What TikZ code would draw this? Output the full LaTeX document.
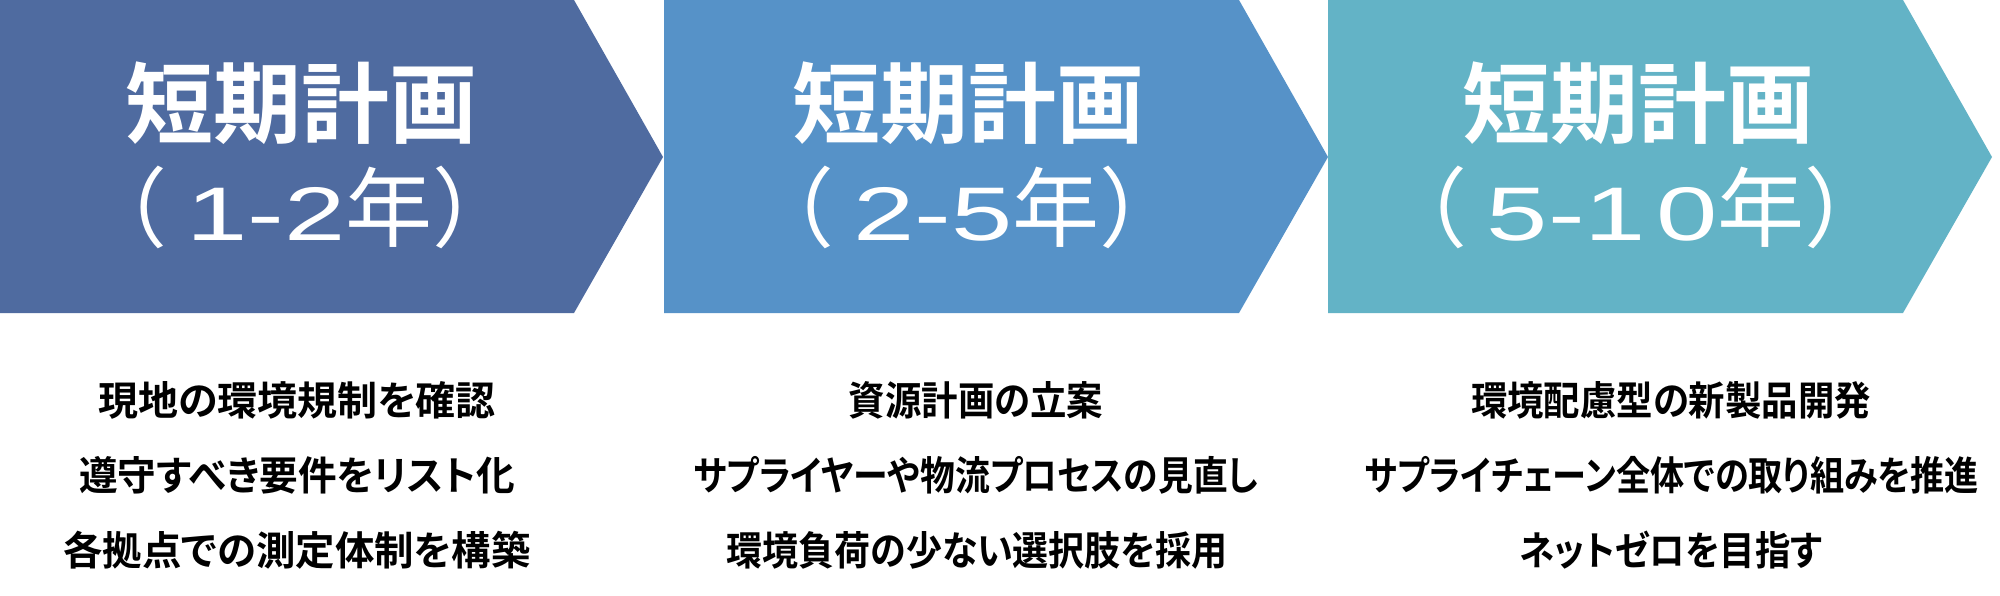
\documentclass[tikz,border=0pt]{standalone}
\usepackage{fontspec}
\IfFontExistsTF{Noto Sans CJK JP Bold}{\newfontfamily\jpbold{Noto Sans CJK JP Bold}\newfontfamily\jpmed{Noto Sans CJK JP Bold}[RawFeature=+palt]}{\newfontfamily\jpbold{Noto Sans CJK JP}[FakeBold=2]\newfontfamily\jpmed{Noto Sans CJK JP}[RawFeature=+palt,FakeBold=1.5]}
\newfontfamily\jpreg{Noto Sans CJK JP}
\newfontfamily\digitfont{Liberation Sans}[FakeStretch=1.45]
\definecolor{cone}{RGB}{79,107,160}
\definecolor{ctwo}{RGB}{86,146,200}
\definecolor{cthree}{RGB}{99,179,198}
\tikzset{
  titletext/.style={text=white,inner sep=0pt,font=\jpbold\fontsize{88}{96}\selectfont},
  subtext/.style={text=white,inner sep=0pt,font=\jpreg\fontsize{87}{94}\selectfont},
  bodytext/.style={text=black,inner sep=0pt,font=\jpmed\fontsize{40}{48}\selectfont},
}
\newcommand{\dg}[1]{{\digitfont\fontsize{76}{90}\selectfont #1}}
\newcommand{\sq}[2]{\scalebox{#1}[1]{#2}}
\begin{document}
\begin{tikzpicture}[x=1pt,y=1pt]
\useasboundingbox (0,0) rectangle (2000,-596);
\fill[white] (0,0) rectangle (2000,-596);
% chevrons
\fill[cone] (0,0) -- (574,0) -- (663,-157) -- (574,-313) -- (0,-313) -- cycle;
\fill[ctwo] (664,0) -- (1239,0) -- (1328,-157) -- (1239,-313) -- (664,-313) -- cycle;
\fill[cthree] (1328,0) -- (1903,0) -- (1992,-157) -- (1903,-313) -- (1328,-313) -- cycle;
% titles
\node[titletext] (t1) at (301,-103) {短期計画};
\node[subtext] (s1) at (300,-207) {（ \dg{1-2}年）};
\node[titletext] (t2) at (968,-103) {短期計画};
\node[subtext] (s2) at (967,-207) {（ \dg{2-5}年）};
\node[titletext] (t3) at (1638,-103) {短期計画};
\node[subtext] (s3) at (1636,-207) {（ \dg{5-1\kern10pt 0}年）};
% body
\node[bodytext] (a1) at (297,-400) {現地の環境規制を確認};
\node[bodytext] (a2) at (297,-475) {\sq{0.966}{遵守すべき要件をリスト化}};
\node[bodytext] (a3) at (297,-550) {\sq{0.985}{各拠点での測定体制を構築}};
\node[bodytext] (b1) at (976,-400) {\sq{0.91}{資源計画の立案}};
\node[bodytext] (b2) at (976,-475) {\sq{0.87}{サプライヤーや物流プロセスの見直し}};
\node[bodytext] (b3) at (977,-550) {\sq{0.90}{環境負荷の少ない選択肢を採用}};
\node[bodytext] (c1) at (1671,-400) {\sq{0.91}{環境配慮型の新製品開発}};
\node[bodytext] (c2) at (1672,-475) {\sq{0.854}{サプライチェーン全体での取り組みを推進}};
\node[bodytext] (c3) at (1671,-550) {\sq{0.886}{ネットゼロを目指す}};
\end{tikzpicture}
\end{document}
